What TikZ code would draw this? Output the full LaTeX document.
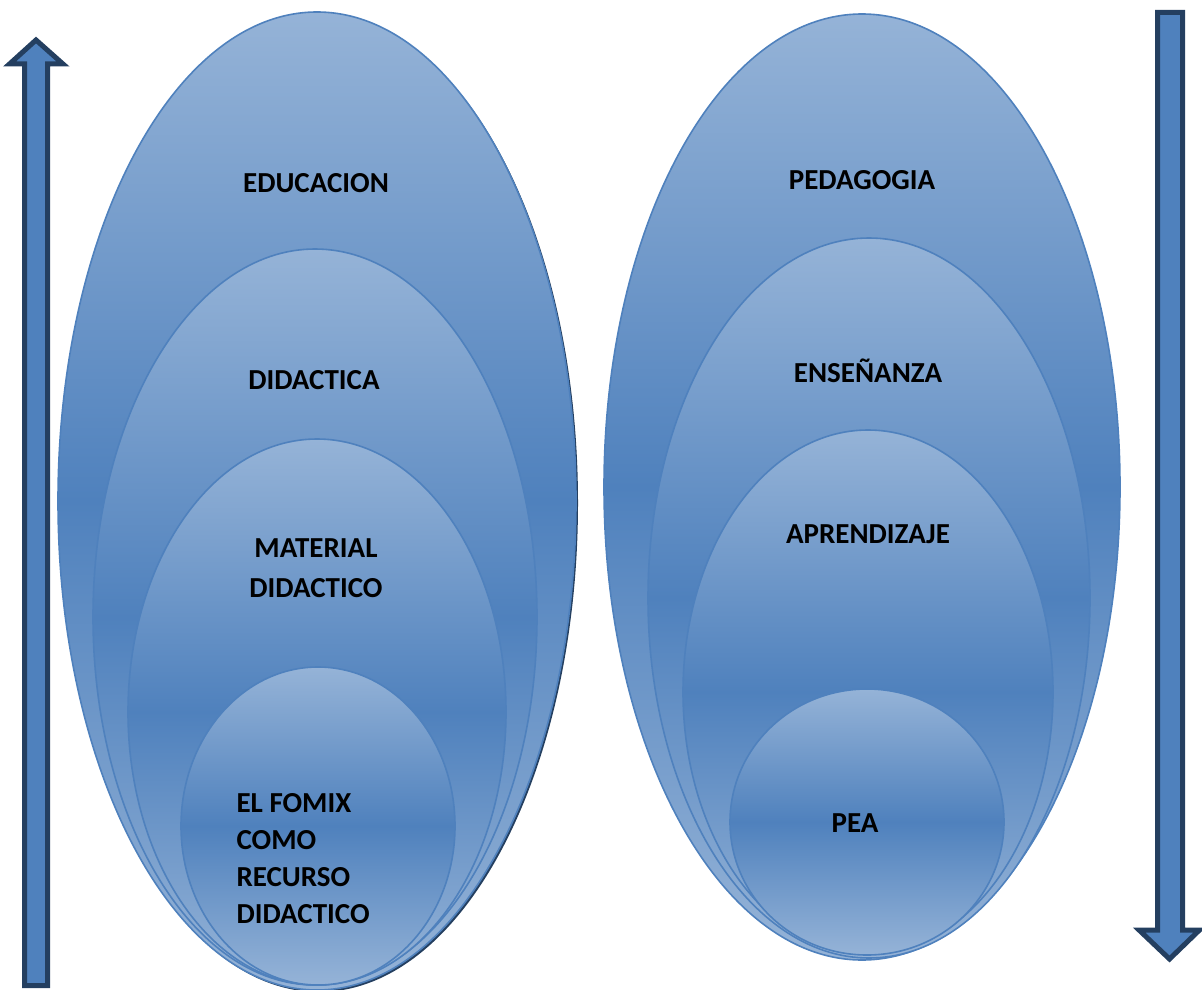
\documentclass[tikz,border=0pt]{standalone}
\usepackage{fontspec}
\setmainfont{Carlito}
\usetikzlibrary{shapes.geometric}
\definecolor{lightb}{HTML}{95B3D7}
\definecolor{midb}{HTML}{4F81BD}
\definecolor{darkb}{HTML}{243F60}
\definecolor{edgeb}{HTML}{4F81BD}
\tikzset{
  ell/.style={ellipse, inner sep=0pt, draw=edgeb, line width=1.6pt,
    top color=lightb, bottom color=lightb, middle color=midb},
  lbl/.style={font=\fontsize{29}{37}\selectfont\bfseries, text=black, align=center},
  bigarrow/.style={fill=midb, draw=darkb, line width=5pt, line join=miter},
}
\begin{document}
\begin{tikzpicture}[x=1pt,y=-1pt]
\useasboundingbox (0,0) rectangle (1202,990);
% left ellipses
\fill[darkb] (319,503) ellipse [x radius=259pt, y radius=489pt];
\node[ell, minimum width=518pt, minimum height=978pt] (educ) at (317,501) {};
\node[ell, minimum width=444pt, minimum height=736pt] (dida) at (315,617) {};
\node[ell, minimum width=378pt, minimum height=546pt] (mate) at (317,712) {};
\node[ell, minimum width=274pt, minimum height=318pt] (fomi) at (318,826) {};
% right ellipses
\node[ell, minimum width=516pt, minimum height=946pt] (peda) at (862,487) {};
\node[ell, minimum width=442pt, minimum height=720pt] (ense) at (869,598) {};
\node[ell, minimum width=370pt, minimum height=524pt] (apre) at (868,692) {};
\node[ell, minimum width=274pt, minimum height=266pt] (pea) at (867,822) {};
% labels
\node[lbl] (t1) at (316,183) {EDUCACION};
\node[lbl] (t2) at (314,380) {DIDACTICA};
\node[lbl, font=\fontsize{29}{40}\selectfont\bfseries] (t3) at (316,568) {MATERIAL\\DIDACTICO};
\node[lbl, align=left, anchor=west] (t4) at (233,859) {EL FOMIX\\COMO\\RECURSO\\DIDACTICO};
\node[lbl] (t5) at (862,180) {PEDAGOGIA};
\node[lbl] (t6) at (868,371) {ENSEÑANZA};
\node[lbl] (t7) at (868,534) {APRENDIZAJE};
\node[lbl] (t8) at (855,823) {PEA};
% up arrow
\draw[bigarrow] (24.5,985.5) -- (24.5,64) -- (9.5,64) -- (36,40) -- (63,64) -- (47.5,64) -- (47.5,985.5) -- cycle;
% down arrow
\draw[bigarrow] (1157.5,12.5) -- (1157.5,930) -- (1139,930) -- (1169.5,959) -- (1199.5,930) -- (1182.5,930) -- (1182.5,12.5) -- cycle;
\end{tikzpicture}
\end{document}
